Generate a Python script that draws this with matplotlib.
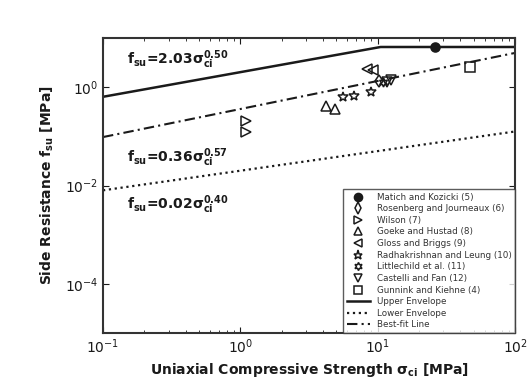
import numpy as np
import matplotlib
matplotlib.use("Agg")
import matplotlib.pyplot as plt

# ---- data ----
upper_x = [0.1, 10.5, 100.0]
upper_y = [0.64, 6.6, 6.6]
lower_x = [0.1, 100.0]
lower_y = [0.008, 0.126]
best_x = [0.1, 100.0]
best_y = [0.097, 5.0]

matich_x = [26.3]
matich_y = [6.6]
rosenberg_x = [10.3]
rosenberg_y = [1.35]
wilson_x = [1.1, 1.1]
wilson_y = [0.21, 0.125]
goeke_x = [4.2, 4.9]
goeke_y = [0.42, 0.36]
gloss_x = [8.3, 9.2]
gloss_y = [2.3, 2.25]
radha_x = [5.6, 6.7, 8.9]
radha_y = [0.64, 0.67, 0.80]
little_x = [11.0]
little_y = [1.3]
castelli_x = [11.6, 12.5]
castelli_y = [1.3, 1.4]
gunnink_x = [46.7]
gunnink_y = [2.6]

labels = ["Matich and Kozicki (5)", "Rosenberg and Journeaux (6)", "Wilson (7)",
          "Goeke and Hustad (8)", "Gloss and Briggs (9)", "Radhakrishnan and Leung (10)",
          "Littlechild et al. (11)", "Castelli and Fan (12)", "Gunnink and Kiehne (4)",
          "Upper Envelope", "Lower Envelope", "Best-fit Line"]

fig = plt.figure(figsize=(5.31, 3.89), dpi=100)
ax = fig.add_axes([0.194, 0.144, 0.776, 0.758])
ax.set_xscale("log")
ax.set_yscale("log")

c = "#1a1a1a"
ms = 6.5
mk = dict(linestyle="none", markerfacecolor="none", markeredgecolor=c, markeredgewidth=1.1, markersize=ms)

h = []
h += ax.plot(matich_x, matich_y, marker="o", **{**mk, "markerfacecolor": c}, label=labels[0])
h += ax.plot(rosenberg_x, rosenberg_y, marker="d", **mk, label=labels[1])
h += ax.plot(wilson_x, wilson_y, marker=">", **mk, label=labels[2])
h += ax.plot(goeke_x, goeke_y, marker="^", **mk, label=labels[3])
h += ax.plot(gloss_x, gloss_y, marker="<", **mk, label=labels[4])
h += ax.plot(radha_x, radha_y, marker="*", **{**mk, "markersize": 7.5}, label=labels[5])
h += ax.plot(little_x, little_y, marker=(6, 1, 0), **mk, label=labels[6])
h += ax.plot(castelli_x, castelli_y, marker="v", **mk, label=labels[7])
h += ax.plot(gunnink_x, gunnink_y, marker="s", **mk, label=labels[8])
h += ax.plot(upper_x, upper_y, "-", color=c, lw=1.8, label=labels[9])
h += ax.plot(lower_x, lower_y, ":", color=c, lw=1.6, label=labels[10])
h += ax.plot(best_x, best_y, color=c, lw=1.5, dashes=(5, 2, 1, 2), label=labels[11])

ax.set_xlim(0.1, 100)
ax.set_ylim(1e-5, 1e1)
ax.set_yticks([1e-4, 1e-2, 1e0])
ax.yaxis.set_minor_locator(matplotlib.ticker.NullLocator())
ax.tick_params(which="both", direction="in", top=True, right=True, colors=c, labelsize=10)
ax.tick_params(which="major", length=4)
ax.tick_params(which="minor", length=2)
for s in ax.spines.values():
    s.set_linewidth(1.5)
    s.set_color("#333333")

ax.text(0.15, 3.0, r"$\mathbf{f_{su}}$=2.03$\mathbf{\sigma_{ci}^{0.50}}$", fontsize=10, color=c, fontweight="bold")
ax.text(0.15, 0.03, r"$\mathbf{f_{su}}$=0.36$\mathbf{\sigma_{ci}^{0.57}}$", fontsize=10, color=c, fontweight="bold")
ax.text(0.15, 0.0033, r"$\mathbf{f_{su}}$=0.02$\mathbf{\sigma_{ci}^{0.40}}$", fontsize=10, color=c, fontweight="bold")

ax.set_xlabel(r"Uniaxial Compressive Strength $\mathbf{\sigma_{ci}}$ [MPa]", fontsize=10, fontweight="bold", color=c, labelpad=3)
ax.set_ylabel(r"Side Resistance $\mathbf{f_{su}}$ [MPa]", fontsize=10, fontweight="bold", color=c, labelpad=6)

leg = ax.legend(handles=h, loc="lower right", fontsize=6.3, frameon=True, fancybox=False,
                edgecolor="#333333", borderpad=0.4, labelspacing=0.3, handlelength=2.6,
                handletextpad=0.8, borderaxespad=0.0, markerscale=0.9)
leg.get_frame().set_linewidth(1.0)
for t in leg.get_texts():
    t.set_color("#333333")

fig.savefig("out.png", dpi=100)
